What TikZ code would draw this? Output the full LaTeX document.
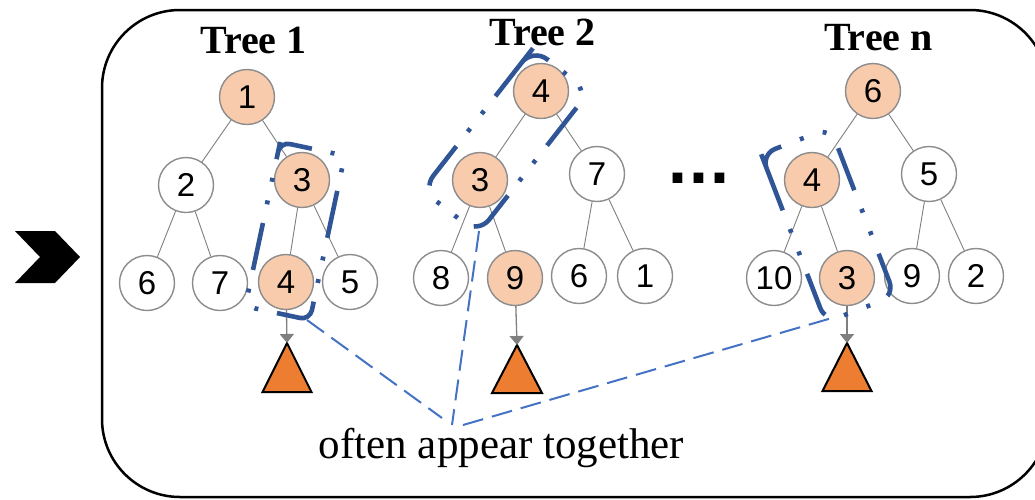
\documentclass[tikz,border=0pt]{standalone}
\usepackage{fontspec}
\setmainfont{Liberation Serif}
\newfontfamily\numfont{Liberation Sans}
\newfontfamily\dotfont{DejaVu Sans}
\usetikzlibrary{arrows.meta}
\definecolor{peach}{HTML}{F8CBAD}
\definecolor{ringgray}{HTML}{8C8C8C}
\definecolor{edgegray}{HTML}{7F7F7F}
\definecolor{triorange}{HTML}{ED7D31}
\definecolor{hlblue}{HTML}{2F5597}
\definecolor{linkblue}{HTML}{4472C4}
\tikzset{
  tnode/.style={circle, draw=ringgray, line width=1.4pt, minimum size=55pt, inner sep=0pt,
    font=\numfont\fontsize{33}{33}\selectfont, fill=white},
  hot/.style={tnode, fill=peach},
  tedge/.style={draw=edgegray, line width=0.9pt},
  leafarrow/.style={draw=edgegray, line width=1.3pt, -{Triangle[width=14pt,length=9pt]}},
  tri/.style={draw=black, fill=triorange, line width=2pt, line join=miter},
  treetitle/.style={font=\bfseries\fontsize{40}{40}\selectfont, anchor=base},
  hlbox/.style={draw=hlblue, line width=4.6pt, line cap=butt},
  link/.style={draw=linkblue, line width=2pt, dash pattern=on 21pt off 9pt},
}
\begin{document}
\begin{tikzpicture}[x=1pt,y=-1pt]
\useasboundingbox (0,0) rectangle (1035,499);
\clip (0,0) rectangle (1035,499);
% outer frame
\draw[line width=2.5pt, rounded corners=78pt] (102,10) rectangle (1048,497);
% chevron
\fill (15,231) -- (55,231) -- (80,257) -- (55,283) -- (15,283) -- (40,257) -- cycle;

% titles
\node[treetitle] (t1) at (253.5,53) {Tree 1};
\node[treetitle] (t2) at (542.5,45) {Tree 2};
\node[treetitle] (tn) at (878.5,50) {Tree n};

% ---------- Tree 1
\node[hot]   (a1) at (247,97)  {1};
\node[tnode] (a2) at (186,185) {2};
\node[hot]   (a3) at (302,180) {3};
\node[tnode] (a6) at (147,283) {6};
\node[tnode] (a7) at (220,283) {7};
\node[hot]   (a4) at (286,282) {4};
\node[tnode] (a5) at (350,282) {5};
\draw[tedge] (a1) -- (a2);
\draw[tedge] (a1) -- (a3);
\draw[tedge] (a2) -- (a6);
\draw[tedge] (a2) -- (a7);
\draw[tedge] (a3) -- (a4);
\draw[tedge] (a3) -- (a5);
\coordinate (ta) at (287,343);
\draw[tri] (ta) -- ++(24.5,49) -- ++(-49,0) -- cycle;
\draw[leafarrow] (a4) -- (ta);

% ---------- Tree 2
\node[hot]   (b4) at (541,91)  {4};
\node[hot]   (b3) at (480,180) {3};
\node[tnode] (b7) at (597,174) {7};
\node[tnode] (b8) at (441,278) {8};
\node[hot]   (b9) at (515,278) {9};
\node[tnode] (b6) at (579,276) {6};
\node[tnode] (b1) at (645,276) {1};
\draw[tedge] (b4) -- (b3);
\draw[tedge] (b4) -- (b7);
\draw[tedge] (b3) -- (b8);
\draw[tedge] (b3) -- (b9);
\draw[tedge] (b7) -- (b6);
\draw[tedge] (b7) -- (b1);
\coordinate (tb) at (517,345);
\draw[tri] (tb) -- ++(25,48) -- ++(-50,0) -- cycle;
\draw[leafarrow] (b9) -- (tb);

% ---------- Tree n
\node[hot]   (c6)  at (873,91)  {6};
\node[hot]   (c4)  at (812,180) {4};
\node[tnode] (c5)  at (929,174) {5};
\node[tnode] (c10) at (774,278) {10};
\node[hot]   (c3)  at (847,278) {3};
\node[tnode] (c9)  at (912,276) {9};
\node[tnode] (c2)  at (976,276) {2};
\draw[tedge] (c6) -- (c4);
\draw[tedge] (c6) -- (c5);
\draw[tedge] (c4) -- (c10);
\draw[tedge] (c4) -- (c3);
\draw[tedge] (c5) -- (c9);
\draw[tedge] (c5) -- (c2);
\coordinate (tc) at (847,343);
\draw[tri] (tc) -- ++(24.5,48) -- ++(-49,0) -- cycle;
\draw[leafarrow] (c3) -- (tc);

% ellipsis
\node[font=\dotfont\bfseries\fontsize{55}{55}\selectfont, anchor=base] (dots) at (699,183) {...};

% ---------- highlight boxes
\begin{scope}[shift={(295,231)}, rotate=-12]
  \draw[hlbox, rounded corners=10pt,
    dash pattern=on 48pt off 19.07pt on 4pt off 19.07pt on 4pt off 19.07pt]
    (-33,-74) -- (-33,-84) -- (33,-84) -- (33,84) -- (-33,84) -- cycle;
\end{scope}
\begin{scope}[shift={(505.5,141)}, rotate=-38]
  \draw[hlbox, rounded corners=18pt,
    dash pattern=on 48pt off 18.5pt on 4pt off 18.5pt on 4pt off 18.5pt]
    (-35.5,-72) -- (-35.5,-90) -- (35.5,-90) -- (35.5,90) -- (-35.5,90) -- cycle;
\end{scope}
\begin{scope}[shift={(828,225)}, rotate=21]
  \draw[hlbox, rounded corners=15pt,
    dash pattern=on 45pt off 20pt on 4pt off 20pt on 4pt off 20pt]
    (-37,-75) -- (-37,-90) -- (37,-90) -- (37,90) -- (-37,90) -- cycle;
\end{scope}

% ---------- caption and links
\node[font=\fontsize{43}{43}\selectfont, anchor=base] (cap) at (501.5,458) {often appear together};
\coordinate (e1) at (307,320);
\coordinate (e2) at (479,231);
\coordinate (e3) at (832,318);
\coordinate (m1) at (442,418);
\coordinate (m2) at (452,425);
\coordinate (m3) at (463,425);
\draw[link] (e1) -- (m1);
\draw[link] (e2) -- (m2);
\draw[link] (m3) -- (e3);
\end{tikzpicture}
\end{document}
